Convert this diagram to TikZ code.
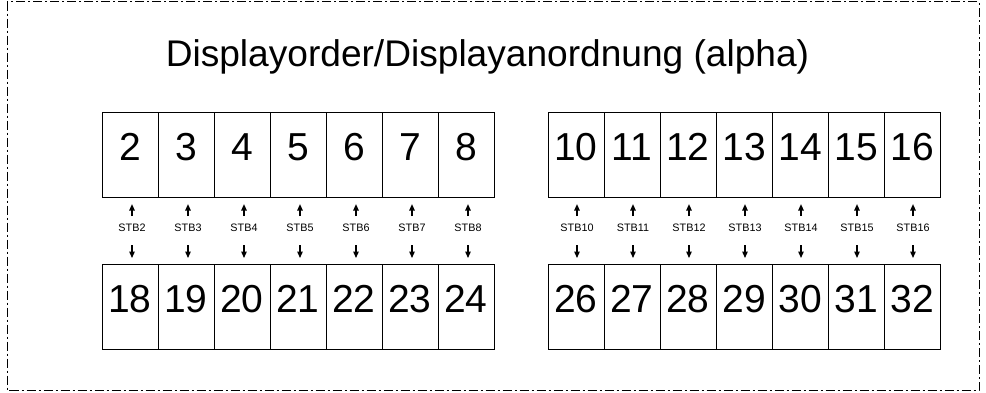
\documentclass[tikz,border=0pt]{standalone}
\usepackage{fontspec}
\setmainfont{Liberation Sans}
\usetikzlibrary{arrows.meta}
\begin{document}
\begin{tikzpicture}[x=1pt,y=-1pt,
  frame/.style={line width=1pt, dash pattern=on 9pt off 3pt on 2pt off 3pt},
  cell/.style={draw, line width=1.1pt, minimum height=85pt, minimum width=56pt, inner sep=0pt, anchor=north west},
  num/.style={font=\fontsize{39}{39}\selectfont, anchor=base},
  stb/.style={font=\fontsize{10.8}{10.8}\selectfont, inner sep=0pt},
  arr/.style={line width=1.3pt, -{Triangle[width=5.5pt,length=6.5pt]}}]
\useasboundingbox (0,0) rectangle (986,392);
\draw[frame] (7,1.5) rectangle (979,390);
\node[font=\fontsize{37.1}{37.1}\selectfont, anchor=base] (title) at (487.5,66) {Displayorder/Displayanordnung (alpha)};
% left group
\foreach \t/\b [count=\i from 0] in {2/18,3/19,4/20,5/21,6/22,7/23,8/24}{
  \node[cell] (t\t) at (102+56*\i,112) {};
  \node[num] (tn\t) at (130+56*\i,160) {\t};
  \node[cell] (b\b) at (102+56*\i,264) {};
  \node[num] (bn\b) at (130+56*\i,312.5) {\b};
  \node[stb] (s\t) at (132+56*\i,228) {STB\t};
  \draw[arr, shorten <=12pt, shorten >=6pt] (s\t.center) -- (s\t.center |- t\t.south);
  \draw[arr, shorten <=17pt, shorten >=6pt] (s\t.center) -- (s\t.center |- b\b.north);
}
% right group
\foreach \t/\b [count=\i from 0] in {10/26,11/27,12/28,13/29,14/30,15/31,16/32}{
  \node[cell] (t\t) at (548+56*\i,112) {};
  \node[num] (tn\t) at (576+56*\i,160) {\t};
  \node[cell] (b\b) at (548+56*\i,264) {};
  \node[num] (bn\b) at (576+56*\i,312.5) {\b};
  \node[stb] (s\t) at (577+56*\i,228) {STB\t};
  \draw[arr, shorten <=12pt, shorten >=6pt] (s\t.center) -- (s\t.center |- t\t.south);
  \draw[arr, shorten <=17pt, shorten >=6pt] (s\t.center) -- (s\t.center |- b\b.north);
}
\end{tikzpicture}
\end{document}
